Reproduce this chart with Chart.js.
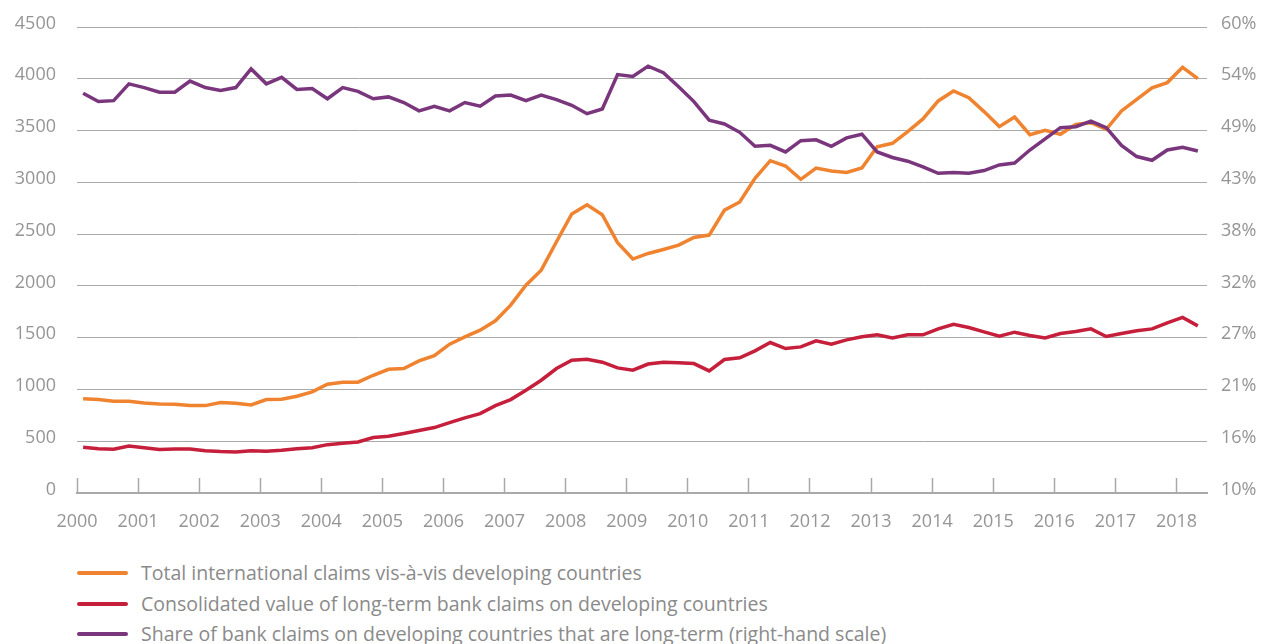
<!DOCTYPE html>
<html>
<head>
<meta charset="utf-8">
<script src="https://cdn.jsdelivr.net/npm/chart.js@4.4.1/dist/chart.umd.min.js"></script>
<style>
  html, body { margin: 0; padding: 0; background: #ffffff; }
  #wrap { position: relative; width: 1265px; height: 644px; overflow: hidden; }
  #cv { position: absolute; left: 0; top: 0; }
  #legend { position: absolute; left: 0; top: 0; width: 1265px; font-family: "Open Sans", sans-serif; font-size: 19.5px; color: #8a8a8a; }
  .item { position: absolute; left: 77px; height: 26px; white-space: nowrap; }
  .swatch { position: absolute; left: 0; top: 11px; width: 51px; height: 4px; border-radius: 2px; }
  .lbl { position: absolute; left: 64px; top: 0; line-height: 26px; }
</style>
</head>
<body>
<div id="wrap">
  <canvas id="cv" width="1265" height="548"></canvas>
  <div id="legend"></div>
</div>
<script>
// ---------- DATA ----------
const startYear = 2000;
const yearTicks = [2000, 2001, 2002, 2003, 2004, 2005, 2006, 2007, 2008, 2009, 2010, 2011, 2012, 2013, 2014, 2015, 2016, 2017, 2018];
const leftTicks = [0, 500, 1000, 1500, 2000, 2500, 3000, 3500, 4000, 4500];
const rightTickLabels = ['10%', '16%', '21%', '27%', '32%', '38%', '43%', '49%', '54%', '60%'];

const seriesNames = [
  'Total international claims vis-à-vis developing countries',
  'Consolidated value of long-term bank claims on developing countries',
  'Share of bank claims on developing countries that are long-term (right-hand scale)'
];

// quarterly, 2000 Q1 .. 2018 Q2
const totalClaims = [
  909, 902, 886, 886, 870, 860, 857, 844, 844, 873, 867, 851, 902, 905, 934, 976,
  1050, 1070, 1070, 1137, 1195, 1202, 1276, 1327, 1437, 1508, 1572, 1663, 1814, 2007, 2152, 2426,
  2694, 2784, 2687, 2417, 2259, 2313, 2352, 2394, 2468, 2491, 2732, 2810, 3038, 3209, 3158, 3029,
  3138, 3109, 3096, 3138, 3344, 3377, 3489, 3612, 3786, 3882, 3818, 3683, 3538, 3631, 3460, 3502,
  3464, 3560, 3576, 3512, 3689, 3802, 3912, 3963, 4111, 4002
];
const longTermClaims = [
  441, 428, 422, 454, 438, 419, 425, 425, 409, 400, 396, 409, 403, 412, 428, 438,
  467, 480, 493, 535, 548, 574, 603, 632, 680, 725, 767, 844, 902, 992, 1089, 1202,
  1282, 1292, 1263, 1208, 1186, 1245, 1263, 1257, 1250, 1179, 1289, 1305, 1373, 1453, 1395, 1411,
  1469, 1437, 1479, 1508, 1527, 1498, 1527, 1527, 1585, 1630, 1598, 1556, 1514, 1553, 1521, 1498,
  1540, 1559, 1585, 1511, 1540, 1566, 1585, 1643, 1695, 1614
];
const longTermShare = [
  52.9, 52.0, 52.1, 53.9, 53.5, 53.0, 53.0, 54.2, 53.5, 53.2, 53.5, 55.5, 53.9, 54.6, 53.3, 53.4,
  52.3, 53.5, 53.1, 52.3, 52.5, 51.9, 51.0, 51.5, 51.0, 51.9, 51.5, 52.6, 52.7, 52.1, 52.7, 52.2,
  51.6, 50.7, 51.2, 54.9, 54.7, 55.8, 55.1, 53.6, 52.0, 50.0, 49.6, 48.7, 47.2, 47.3, 46.6, 47.8,
  47.9, 47.2, 48.1, 48.5, 46.6, 46.0, 45.6, 45.0, 44.3, 44.4, 44.3, 44.6, 45.2, 45.4, 46.8, 48.0,
  49.2, 49.3, 49.9, 49.2, 47.3, 46.1, 45.7, 46.8, 47.1, 46.7
];

const colors = ['#f0832f', '#c51f3b', '#7a367c'];

// time position of each quarterly observation (decimal year)
const quarterTimes = totalClaims.map((_, i) => startYear + 0.1 + i * 0.25);
const toPoints = arr => arr.map((v, i) => ({ x: quarterTimes[i], y: v }));

const tickFont = { family: 'Open Sans', size: 18 };
const tickColor = '#959595';
const gridColor = '#a9a9a9';

const chart = new Chart(document.getElementById('cv'), {
  type: 'line',
  data: {
    datasets: [
      { label: seriesNames[0], data: toPoints(totalClaims), borderColor: colors[0], backgroundColor: colors[0], yAxisID: 'y', order: 2 },
      { label: seriesNames[1], data: toPoints(longTermClaims), borderColor: colors[1], backgroundColor: colors[1], yAxisID: 'y', order: 1 },
      { label: seriesNames[2], data: toPoints(longTermShare), borderColor: colors[2], backgroundColor: colors[2], yAxisID: 'y1', order: 0 }
    ]
  },
  options: {
    responsive: false,
    animation: false,
    layout: { padding: { top: 27, left: 0, right: 0, bottom: 0 } },
    elements: {
      point: { radius: 0, hoverRadius: 0 },
      line: { tension: 0, borderWidth: 3.5, fill: false }
    },
    plugins: { legend: { display: false }, tooltip: { enabled: false } },
    scales: {
      x: {
        type: 'linear',
        min: 2000,
        max: 2018.5,
        afterBuildTicks: s => { s.ticks = yearTicks.map(v => ({ value: v })); },
        afterFit: s => { s.height = 55; },
        grid: { drawOnChartArea: false, drawTicks: true, tickLength: -15, tickColor: gridColor, tickWidth: 1.5 },
        border: { display: true, color: gridColor, width: 2 },
        ticks: {
          padding: 33, color: tickColor, font: tickFont, maxRotation: 0, autoSkip: false,
          callback: v => String(v)
        }
      },
      y: {
        position: 'left',
        min: 0,
        max: 4500,
        afterBuildTicks: s => { s.ticks = leftTicks.map(v => ({ value: v })); },
        afterFit: s => { s.width = 77; s.paddingTop = 0; s.paddingBottom = 0; },
        grid: { color: gridColor, lineWidth: 1, drawTicks: false },
        border: { display: false },
        ticks: { padding: 21, labelOffset: -3.5, color: tickColor, font: tickFont, callback: v => String(v) }
      },
      y1: {
        position: 'right',
        min: 10,
        max: 60,
        afterFit: s => { s.width = 58; s.paddingTop = 0; s.paddingBottom = 0; },
        grid: { drawOnChartArea: false, drawTicks: false },
        border: { display: false },
        ticks: { count: 10, padding: 14, labelOffset: -3.5, color: tickColor, font: tickFont,
                 callback: (v, i) => rightTickLabels[i] }
      }
    }
  }
});

// HTML legend built from the chart's datasets (vertical list, as in the original)
const legend = document.getElementById('legend');
const rowTops = [560, 591, 621];
chart.data.datasets.forEach((ds, i) => {
  const item = document.createElement('div');
  item.className = 'item';
  item.style.top = rowTops[i] + 'px';
  const sw = document.createElement('span');
  sw.className = 'swatch';
  sw.style.background = ds.borderColor;
  const lb = document.createElement('span');
  lb.className = 'lbl';
  lb.textContent = ds.label;
  item.appendChild(sw);
  item.appendChild(lb);
  legend.appendChild(item);
});
</script>
</body>
</html>
